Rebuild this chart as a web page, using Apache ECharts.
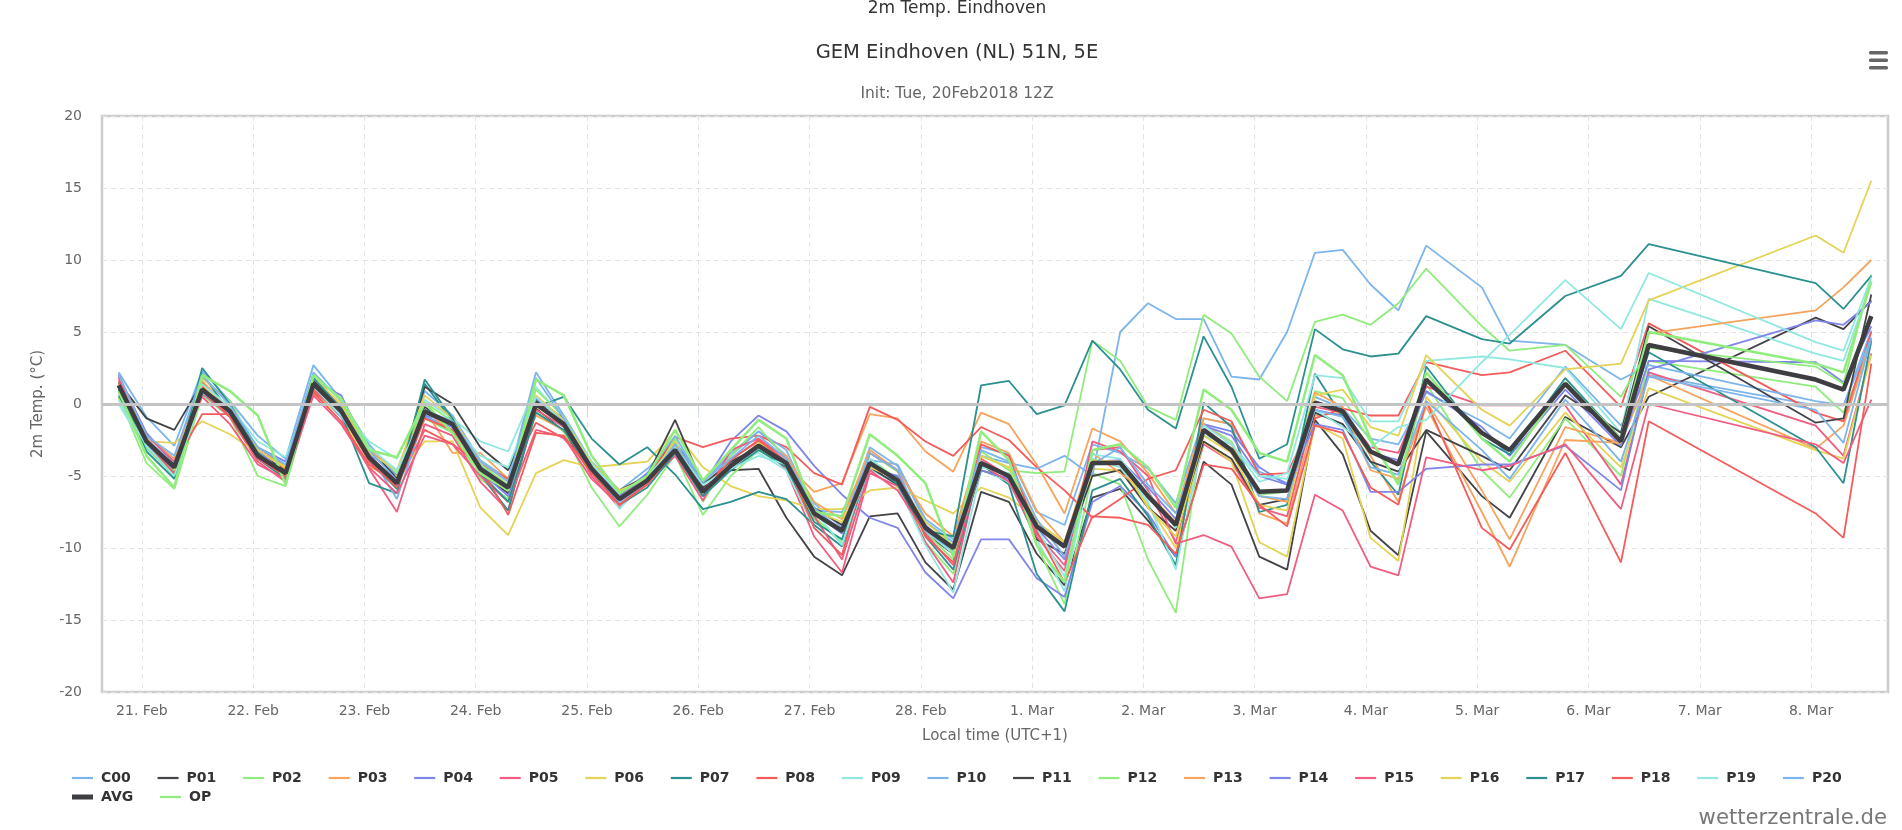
<!DOCTYPE html>
<html><head><meta charset="utf-8">
<script src="https://cdn.jsdelivr.net/npm/echarts@6/dist/echarts.min.js"></script>
<style>html,body{margin:0;padding:0;background:#fff}#chart{width:1902px;height:830px}</style>
</head><body><div id="chart"></div>
<script>
// hours since 21 Feb 2018 00:00 local time (UTC+1)
const TIMES = [-5,1,7,13,19,25,31,37,
  43,49,55,61,67,73,79,85,
  91,97,103,109,115,121,127,133,
  139,145,151,157,163,169,175,181,
  187,193,199,205,211,217,223,229,
  235,241,247,253,259,265,271,277,
  289,295,307,319,325,361,367,373];
const TICK_HOURS = [0,24,48,72,96,120,144,168,192,216,240,264,288,312,336,360];
const TICK_LABELS = ['21. Feb','22. Feb','23. Feb','24. Feb','25. Feb','26. Feb','27. Feb','28. Feb','1. Mar','2. Mar','3. Mar','4. Mar','5. Mar','6. Mar','7. Mar','8. Mar'];

const C00 = [2.2,-0.9,-2.9,2.3,0.2,-2.2,-3.8,2.7,
 0.3,-2.8,-5.0,0.9,-0.8,-3.9,-5.2,2.2,
 -0.8,-4.0,-6.0,-4.5,-2.6,-5.3,-3.6,-1.9,
 -3.6,-6.9,-8.6,-3.0,-4.3,-8.2,-9.6,-3.0,
 -3.5,-7.5,-8.4,-2.8,-3.4,-4.5,-6.9,-1.0,
 -1.4,-4.7,-5.5,0.5,-0.3,-2.4,-2.8,0.8,
 -1.2,-2.4,2.6,-1.5,2.0,-0.1,-0.1,5.1];
const P01 = [1.5,-1.0,-1.8,1.5,-0.3,-3.5,-4.8,1.2,
 -0.6,-3.9,-5.8,-0.2,-1.6,-4.8,-6.2,-0.3,
 -1.9,-4.8,-6.4,-4.9,-2.6,-5.8,-4.6,-4.5,
 -7.9,-10.6,-11.9,-7.8,-7.6,-11.0,-12.9,-6.1,
 -6.8,-10.4,-12.6,-6.5,-5.9,-8.1,-10.6,-4.0,
 -5.6,-10.6,-11.5,-1.1,-3.5,-8.8,-10.5,-1.9,
 -6.4,-7.9,-0.9,-3.0,0.5,6.0,5.2,7.2];
const P02 = [0.5,-4.1,-5.9,0.6,-0.9,-5.0,-5.7,1.0,
 -0.6,-4.0,-5.9,-1.0,-2.0,-5.2,-6.6,-0.5,
 -1.9,-5.8,-8.5,-6.3,-3.5,-7.7,-5.0,-3.2,
 -4.2,-8.0,-9.5,-3.8,-5.2,-9.6,-11.8,-3.6,
 -4.4,-9.8,-13.9,-4.8,-5.6,-10.8,-14.5,-1.4,
 -2.6,-6.3,-6.1,0.9,0.4,-2.6,-5.4,1.4,
 -4.6,-6.5,-1.0,-5.0,3.0,1.2,-0.6,4.2];
const P03 = [1.0,-2.4,-4.6,1.6,-0.4,-3.6,-5.2,1.6,
 -0.2,-3.6,-5.4,-0.4,-3.4,-3.4,-5.2,-0.8,
 -1.8,-4.6,-6.4,-5.2,-3.0,-6.0,-4.2,-2.8,
 -4.2,-6.1,-5.5,-0.7,-1.0,-3.3,-4.7,-0.6,
 -1.4,-4.2,-7.6,-1.7,-2.6,-4.8,-7.6,-1.0,
 -1.4,-7.6,-8.3,-0.8,-0.6,-3.6,-6.8,0.2,
 -6.0,-9.4,-1.6,-2.7,2.0,-3.1,-1.5,4.5];
const P04 = [1.9,-2.0,-4.2,0.7,-0.6,-3.0,-4.0,1.6,
 0.6,-3.4,-5.0,-0.9,-1.6,-4.7,-6.4,0.3,
 -1.5,-4.8,-6.6,-5.0,-3.0,-5.6,-2.6,-0.8,
 -1.9,-4.3,-6.3,-7.9,-8.6,-11.7,-13.5,-9.4,
 -9.4,-12.1,-13.4,-6.8,-5.7,-7.6,-10.6,-1.4,
 -1.9,-4.4,-5.6,-0.4,-0.8,-3.4,-3.9,0.9,
 -1.6,-3.6,1.0,-2.9,3.0,2.9,1.5,5.4];
const P05 = [1.8,-3.0,-5.0,0.8,-0.9,-4.0,-5.4,0.9,
 -0.9,-4.5,-7.5,-1.4,-2.2,-5.4,-7.4,-0.4,
 -1.6,-5.0,-7.2,-5.4,-3.4,-6.4,-3.8,-2.6,
 -4.6,-9.2,-11.7,-4.8,-5.7,-9.6,-12.4,-3.8,
 -5.0,-9.0,-11.2,-3.2,-3.0,-6.0,-9.6,-2.8,
 -4.0,-7.2,-7.8,-0.2,-0.6,-3.0,-3.4,1.2,
 -0.1,-0.1,-0.1,-5.6,2.2,-1.5,-3.6,3.5];
const P06 = [0.4,-2.6,-2.7,-1.2,-2.1,-3.4,-4.2,0.7,
 -0.8,-4.4,-5.0,-2.6,-2.6,-7.2,-9.1,-4.8,
 -3.9,-4.4,-4.2,-4.0,-1.9,-4.4,-5.7,-6.4,
 -6.7,-7.3,-7.3,-6.0,-5.8,-6.7,-7.6,-5.8,
 -6.5,-8.0,-10.6,-4.5,-4.6,-7.0,-10.0,-2.6,
 -4.0,-9.6,-10.6,-1.4,-2.4,-9.3,-10.9,0.5,
 -4.0,-5.4,-0.6,-4.4,1.1,-3.2,-3.8,3.4];
const P07 = [0.6,-3.0,-4.8,2.1,-0.6,-3.8,-5.2,1.3,
 -0.7,-5.5,-6.2,1.4,-1.2,-4.9,-7.4,-0.2,
 0.5,-2.4,-4.2,-3.0,-4.9,-7.3,-6.8,-6.1,
 -6.6,-8.4,-9.9,-4.6,-5.0,-9.2,-11.5,-4.2,
 -5.6,-11.8,-14.4,-6.0,-5.2,-7.8,-11.2,0.1,
 -1.6,-7.5,-7.0,2.1,-0.9,-4.0,-6.3,2.6,
 -2.4,-3.5,1.8,-2.4,3.6,-3.0,-5.5,4.4];
const P08 = [1.4,-2.8,-4.2,-0.7,-0.7,-3.0,-4.4,0.8,
 -1.2,-4.2,-5.6,-1.8,-2.8,-4.2,-5.2,-1.3,
 -2.4,-4.4,-6.2,-5.0,-2.3,-3.0,-2.4,-2.2,
 -3.0,-4.8,-5.6,-0.2,-1.1,-2.6,-3.6,-1.6,
 -2.5,-4.4,-6.0,-7.9,-6.6,-5.2,-4.6,-0.4,
 -1.2,-4.9,-4.8,-1.0,-0.3,-0.8,-0.8,2.9,
 2.0,2.2,3.7,-0.2,5.6,-0.6,-1.2,5.0];
const P09 = [0.0,-3.2,-5.2,0.8,-0.4,-3.0,-4.2,1.0,
 -0.4,-2.6,-3.8,0.3,-1.0,-2.6,-3.3,1.2,
 -1.0,-4.0,-7.3,-5.0,-3.6,-6.0,-4.0,-3.4,
 -4.6,-8.6,-10.5,-4.5,-5.6,-9.8,-13.1,-4.6,
 -5.4,-9.4,-13.0,-3.8,-4.4,-6.8,-11.5,-2.2,
 -2.8,-5.4,-4.8,2.0,1.8,-1.2,-1.2,3.0,
 3.3,3.1,2.5,-2.0,7.3,3.5,3.0,8.4];
const P10 = [2.1,-2.4,-4.2,1.3,-0.8,-3.8,-4.6,1.2,
 -0.9,-3.4,-6.6,-0.8,-1.9,-4.2,-5.9,0.3,
 -1.0,-4.4,-6.3,-4.8,-2.2,-5.5,-3.4,-1.9,
 -3.2,-7.4,-7.5,-3.9,-4.2,-8.0,-9.4,-3.6,
 -4.1,-4.5,-3.6,-5.0,5.0,7.0,5.9,5.9,
 1.9,1.7,5.0,10.5,10.7,8.3,6.5,11.0,
 8.1,4.4,4.1,1.7,2.7,0.2,-0.1,4.6];
const P11 = [1.0,-2.7,-4.2,0.9,-0.4,-3.4,-4.6,1.6,
 -0.2,-3.0,-5.2,1.2,0.0,-3.0,-4.6,0.2,
 -1.0,-4.2,-6.0,-5.0,-1.1,-5.6,-4.0,-3.0,
 -4.3,-7.2,-8.4,-4.4,-5.6,-9.0,-10.4,-4.6,
 -5.2,-9.4,-10.4,-5.0,-4.6,-7.2,-8.8,-2.6,
 -3.8,-7.0,-6.6,-0.6,-1.4,-4.0,-4.7,-1.8,
 -3.6,-4.6,0.6,-2.0,5.4,-1.3,-1.0,7.6];
const P12 = [1.1,-3.0,-5.0,1.8,0.2,-3.2,-5.0,1.9,
 0.4,-3.0,-4.8,0.1,-1.2,-4.2,-5.6,1.0,
 -0.9,-4.3,-6.4,-5.6,-2.4,-6.8,-3.6,-1.6,
 -3.8,-7.8,-9.7,-3.4,-4.7,-8.9,-10.8,-3.3,
 -4.6,-4.8,-4.7,4.4,3.0,-0.2,-1.1,6.2,
 4.9,1.9,0.2,5.7,6.2,5.5,7.0,9.4,
 5.4,3.7,4.1,0.5,3.9,2.6,1.4,9.0];
const P13 = [1.4,-2.2,-3.8,1.9,0.0,-3.2,-4.5,1.8,
 -0.2,-3.2,-4.6,-0.4,-2.0,-4.0,-5.4,-0.2,
 -1.2,-4.6,-6.8,-5.6,-2.9,-6.3,-4.4,-2.7,
 -3.6,-6.8,-8.0,-3.2,-4.6,-7.6,-9.2,-2.6,
 -3.4,-7.4,-9.6,-3.4,-4.8,-6.2,-8.2,-1.4,
 -2.8,-6.4,-6.8,0.8,-0.2,-4.6,-5.2,-0.2,
 -7.5,-11.3,-2.5,-2.7,4.9,6.5,8.1,10.0];
const P14 = [1.2,-2.8,-4.6,1.0,-0.2,-3.2,-5.0,1.4,
 -0.3,-3.6,-5.6,-0.8,-1.2,-4.4,-6.0,0.4,
 -1.2,-4.3,-6.4,-4.8,-3.4,-6.3,-4.4,-3.0,
 -4.0,-7.6,-9.0,-4.4,-5.0,-8.4,-10.2,-4.6,
 -5.2,-8.6,-10.8,-4.0,-3.9,-5.8,-8.0,-1.5,
 -2.2,-5.0,-5.6,-1.4,-1.8,-6.1,-6.1,-4.5,
 -4.2,-4.2,-2.9,-6.0,2.4,5.8,5.5,7.1];
const P15 = [2.0,-2.2,-4.0,0.5,-1.4,-4.2,-5.2,0.6,
 -1.4,-4.4,-6.2,-2.2,-2.8,-5.0,-6.8,-1.8,
 -2.3,-5.2,-7.0,-5.5,-3.6,-6.7,-3.2,-2.4,
 -3.8,-7.8,-10.8,-4.6,-6.0,-9.0,-11.2,-4.2,
 -5.4,-9.2,-11.6,-2.6,-3.3,-5.0,-9.7,-9.1,
 -9.9,-13.5,-13.2,-6.3,-7.4,-11.3,-11.9,-3.7,
 -4.6,-4.3,-2.8,-7.3,0.0,-2.8,-4.1,0.3];
const P16 = [0.8,-2.4,-4.6,1.3,-0.2,-3.2,-4.4,1.8,
 0.0,-3.4,-4.6,0.6,-1.0,-4.0,-5.4,0.6,
 -1.1,-4.1,-6.0,-5.2,-2.6,-6.2,-4.4,-2.7,
 -4.0,-7.4,-8.2,-4.4,-5.2,-8.2,-9.8,-3.6,
 -4.4,-8.2,-9.6,-3.9,-4.0,-7.2,-9.2,-2.2,
 -3.4,-7.0,-7.4,0.6,1.0,-1.6,-2.2,3.4,
 -0.4,-1.5,2.4,2.8,7.2,11.7,10.5,15.5];
const P17 = [1.0,-3.3,-5.2,2.5,0.0,-3.4,-5.0,1.8,
 -0.3,-3.9,-5.9,1.7,-1.0,-4.8,-6.8,-0.6,
 -1.8,-4.6,-7.0,-5.8,-3.4,-6.4,-4.6,-3.2,
 -4.4,-8.2,-9.4,-3.9,-5.6,-8.8,-9.2,1.3,
 1.6,-0.7,-0.1,4.4,2.4,-0.4,-1.7,4.7,
 1.2,-3.8,-2.8,5.2,3.8,3.3,3.5,6.1,
 4.5,4.2,7.5,8.9,11.1,8.4,6.6,8.9];
const P18 = [1.6,-2.6,-4.9,1.2,-0.9,-3.8,-5.0,1.0,
 -0.6,-4.0,-5.8,-1.0,-1.8,-4.4,-7.7,-2.0,
 -2.2,-4.8,-7.0,-5.6,-3.2,-6.0,-3.9,-2.5,
 -4.0,-8.6,-10.5,-3.4,-4.6,-9.2,-11.0,-2.8,
 -3.6,-8.8,-12.4,-7.8,-7.9,-8.4,-10.4,-4.2,
 -4.5,-7.0,-8.5,-1.5,-2.0,-5.8,-7.0,0.2,
 -8.6,-10.1,-3.4,-11.0,-1.2,-7.6,-9.3,2.8];
const P19 = [0.3,-2.9,-5.0,1.4,-0.2,-2.6,-3.7,1.2,
 -0.8,-3.0,-4.6,-0.6,-1.5,-3.6,-4.4,0.5,
 -1.3,-4.2,-6.2,-5.0,-3.0,-5.6,-4.5,-3.6,
 -4.2,-7.4,-9.8,-3.8,-5.4,-8.8,-10.4,-4.4,
 -4.8,-8.6,-12.0,-3.5,-3.8,-6.2,-8.6,-1.5,
 -2.8,-5.0,-5.2,-0.4,-1.6,-3.0,-1.6,-1.1,
 2.9,4.8,8.6,5.2,9.1,4.3,3.7,8.8];
const P20 = [2.0,-2.2,-3.6,2.0,-0.1,-3.0,-4.2,2.2,
 0.2,-3.2,-5.3,-0.4,-1.2,-4.0,-5.4,1.8,
 -1.0,-4.6,-6.8,-5.4,-2.8,-5.4,-3.8,-2.2,
 -3.8,-7.2,-8.8,-3.4,-4.6,-8.8,-10.2,-3.2,
 -4.0,-8.0,-10.6,-4.2,-3.0,-5.6,-7.6,-1.9,
 -3.3,-6.4,-6.6,-0.4,-0.9,-4.4,-4.9,0.2,
 -3.2,-5.2,0.3,-4.0,1.9,-0.4,-2.7,4.6];
const AVG = [1.3,-2.6,-4.4,1.0,-0.5,-3.6,-4.8,1.4,
 -0.5,-3.7,-5.5,-0.5,-1.4,-4.5,-5.8,0.0,
 -1.4,-4.5,-6.6,-5.3,-3.2,-6.1,-4.3,-2.9,
 -4.1,-7.6,-8.8,-4.1,-5.3,-8.6,-10.0,-4.1,
 -5.0,-8.5,-9.9,-4.1,-4.1,-6.4,-8.4,-1.8,
 -3.2,-6.1,-6.0,0.1,-0.5,-3.3,-4.2,1.7,
 -2.0,-3.2,1.4,-2.6,4.1,1.7,1.0,6.1];
const OP = [0.9,-3.6,-5.8,2.0,0.9,-0.8,-5.6,2.0,
 0.3,-3.2,-3.7,0.1,-2.0,-4.8,-6.0,1.7,
 0.6,-3.6,-6.2,-5.0,-1.8,-5.3,-3.2,-1.1,
 -2.4,-7.5,-7.8,-2.1,-3.6,-5.5,-10.6,-1.9,
 -3.9,-9.8,-12.4,-3.2,-2.8,-4.4,-7.2,1.0,
 -0.4,-3.4,-4.0,3.4,2.0,-2.4,-5.6,2.2,
 -2.4,-4.0,1.5,-2.4,5.0,2.8,2.2,8.5];

const MEMBER_NAMES = ['C00','P01','P02','P03','P04','P05','P06','P07','P08','P09','P10','P11','P12','P13','P14','P15','P16','P17','P18','P19','P20'];
const VALUES = {C00,P01,P02,P03,P04,P05,P06,P07,P08,P09,P10,P11,P12,P13,P14,P15,P16,P17,P18,P19,P20,AVG,OP};

// styles
const PALETTE = ['#7cb5ec','#434348','#90ed7d','#f7a35c','#8085e9','#f15c80','#e4d354','#2b908f','#f45b5b','#91e8e1'];
const FONT = '"DejaVu Sans", "Liberation Sans", sans-serif';

function colorOf(name) {
  if (name === 'AVG') return '#3d3d42';
  if (name === 'OP') return '#90ed7d';
  const i = MEMBER_NAMES.indexOf(name);
  return PALETTE[i % 10];
}
function pairs(vals) { return TIMES.map((t, i) => [t, vals[i]]); }

const series = [];
MEMBER_NAMES.concat(['AVG','OP']).forEach((name, k) => {
  const s = {
    name, type: 'line', data: pairs(VALUES[name]),
    symbol: 'none', showSymbol: false, silent: true,
    color: colorOf(name),
    lineStyle: { width: name === 'AVG' ? 4.5 : (name === 'OP' ? 2.5 : 1.8), color: colorOf(name) },
    emphasis: { disabled: true },
    z: name === 'AVG' ? 4 : 3,
    animation: false
  };
  if (k === 0) {
    s.markLine = { silent: true, symbol: 'none', label: { show: false },
      lineStyle: { color: '#c4c4c4', width: 3, type: 'solid' },
      data: [{ yAxis: 0 }], animation: false };
  }
  series.push(s);
});

const LINE_ICON = 'path://M0,0L21,0L21,2.2L0,2.2Z';
const THICK_ICON = 'path://M0,0L21,0L21,5L0,5Z';
const legendCommon = {
  orient: 'horizontal', left: 72, padding: 0, itemWidth: 21, itemHeight: 14, itemGap: 26.8,
  textStyle: { fontFamily: FONT, fontSize: 14, fontWeight: 'bold', color: '#333', padding: [0, 0, 0, 3] },
  selectedMode: false
};

const chart = echarts.init(document.getElementById('chart'), null, { renderer: 'canvas' });
chart.setOption({
  animation: false,
  backgroundColor: '#fff',
  textStyle: { fontFamily: FONT },
  grid: { left: 102, right: 14, top: 116, bottom: 138, show: true, borderColor: '#cccccc', borderWidth: 2.5, containLabel: false },
  legend: [
    Object.assign({}, legendCommon, { top: 771, data: MEMBER_NAMES.map(n => ({ name: n, icon: LINE_ICON })) }),
    Object.assign({}, legendCommon, { top: 790, data: [{ name: 'AVG', icon: THICK_ICON }, { name: 'OP', icon: LINE_ICON }] })
  ],
  xAxis: {
    type: 'value', min: -8.6, max: 376.6,
    name: 'Local time (UTC+1)', nameLocation: 'middle', nameGap: 37,
    nameTextStyle: { color: '#666', fontSize: 15, fontFamily: FONT },
    axisLine: { show: false },
    axisTick: { show: true, customValues: TICK_HOURS, length: 9, lineStyle: { color: '#ccd6eb', width: 1 } },
    axisLabel: { customValues: TICK_HOURS, margin: 12, color: '#666', fontSize: 14, fontFamily: FONT,
      formatter: v => { const i = TICK_HOURS.indexOf(Math.round(v)); return i >= 0 ? TICK_LABELS[i] : ''; } },
    splitLine: { show: true, lineStyle: { color: '#e3e3e3', type: [5, 4], width: 1 } }
  },
  yAxis: {
    type: 'value', min: -20, max: 20, interval: 5,
    name: '2m Temp. (°C)', nameLocation: 'middle', nameGap: 56,
    nameTextStyle: { color: '#666', fontSize: 15, fontFamily: FONT },
    axisLine: { show: false }, axisTick: { show: false },
    axisLabel: { margin: 20, color: '#666', fontSize: 14, fontFamily: FONT },
    splitLine: { show: true, lineStyle: { color: '#e3e3e3', type: [5, 4], width: 1 } }
  },
  graphic: [
    { type: 'text', x: 957, y: 9, style: { text: '2m Temp. Eindhoven', fill: '#333', font: '17px ' + FONT, textAlign: 'center', textVerticalAlign: 'middle' } },
    { type: 'text', x: 957, y: 53, style: { text: 'GEM Eindhoven (NL) 51N, 5E', fill: '#333', font: '19.5px ' + FONT, textAlign: 'center', textVerticalAlign: 'middle' } },
    { type: 'text', x: 957, y: 94, style: { text: 'Init: Tue, 20Feb2018 12Z', fill: '#666', font: '15.5px ' + FONT, textAlign: 'center', textVerticalAlign: 'middle' } },
    { type: 'text', x: 1887, y: 818, style: { text: 'wetterzentrale.de', fill: '#777', font: '21.2px ' + FONT, textAlign: 'right', textVerticalAlign: 'middle' } },
    { type: 'rect', shape: { x: 1869, y: 51, width: 19, height: 3.5, r: 1.5 }, style: { fill: '#666' } },
    { type: 'rect', shape: { x: 1869, y: 58.5, width: 19, height: 3.5, r: 1.5 }, style: { fill: '#666' } },
    { type: 'rect', shape: { x: 1869, y: 66, width: 19, height: 3.5, r: 1.5 }, style: { fill: '#666' } }
  ],
  series
});
</script>
</body></html>
